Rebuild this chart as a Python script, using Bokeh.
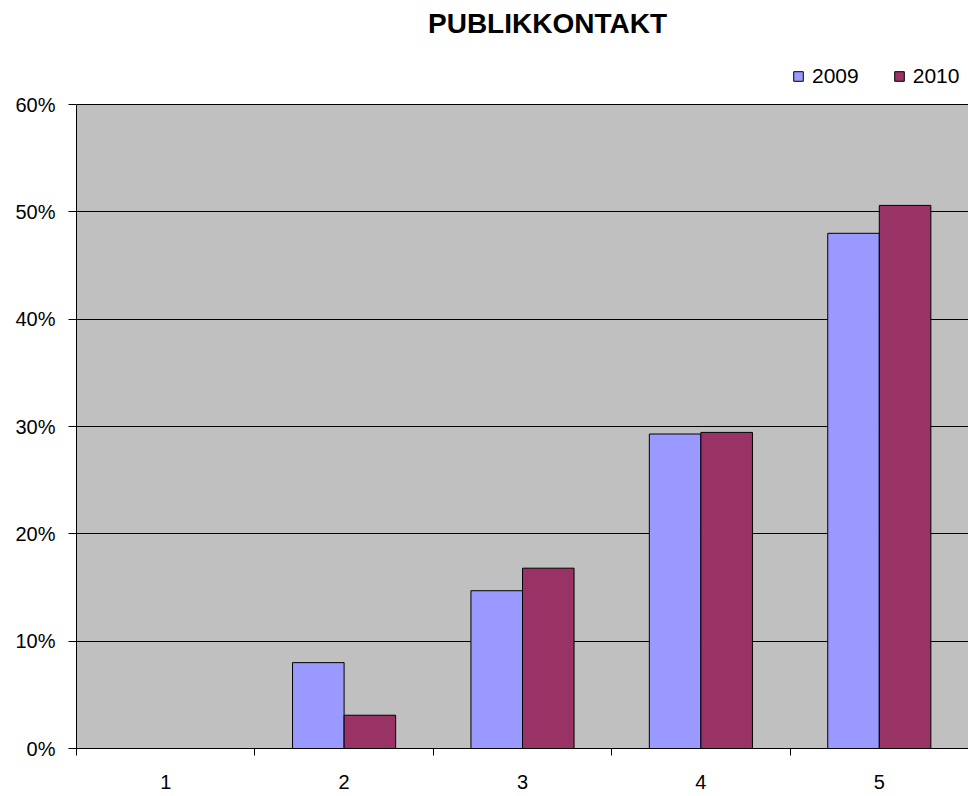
from bokeh.plotting import figure
from bokeh.models import (FixedTicker, NumeralTickFormatter, Label, Legend, LegendItem,
                          ColumnDataSource)
from bokeh.embed import file_html
from bokeh.resources import INLINE

categories = ["1", "2", "3", "4", "5"]
values_2009 = [0.0, 0.080, 0.147, 0.293, 0.480]
values_2010 = [0.0, 0.031, 0.168, 0.2945, 0.506]
series_names = ["2009", "2010"]
y_ticks = [0.0, 0.1, 0.2, 0.3, 0.4, 0.5, 0.6]
title_text = "PUBLIKKONTAKT"

FONT = "Liberation Sans"
BAR_W = 0.289
Y_MAX = 0.6
FRAME_H = 748
PLOT_H = 644
y_top = Y_MAX * FRAME_H / PLOT_H  # extra headroom for title/legend inside frame

xpos = [i + 1 for i in range(len(categories))]
src = ColumnDataSource(dict(
    x09=[x - BAR_W / 2 for x in xpos],
    x10=[x + BAR_W / 2 for x in xpos],
    v09=values_2009,
    v10=values_2010,
))

p = figure(width=968, height=796, output_backend="svg", toolbar_location=None,
           x_range=(0.5, len(categories) + 0.5), y_range=(0, y_top),
           min_border_left=76, min_border_right=0, min_border_top=0, min_border_bottom=48)

p.background_fill_color = "white"
p.border_fill_color = "white"
p.outline_line_color = None

# gray plot area (0% .. 60%)
p.quad(left=0.5, right=len(categories) + 0.5, bottom=0, top=Y_MAX,
       fill_color="#C0C0C0", line_color=None, level="image")

r09 = p.vbar(x="x09", top="v09", width=BAR_W, source=src, fill_color="#9999FF",
             line_color="black", line_width=1)
r10 = p.vbar(x="x10", top="v10", width=BAR_W, source=src, fill_color="#993366",
             line_color="black", line_width=1)

# y axis
yax = p.yaxis[0]
yax.ticker = FixedTicker(ticks=y_ticks)
yax.bounds = (0, Y_MAX)
yax.formatter = NumeralTickFormatter(format="0%")
yax.major_tick_in = 0
yax.major_tick_out = 8
yax.minor_tick_line_color = None
yax.axis_line_color = "black"
yax.major_tick_line_color = "black"
yax.major_label_text_font = FONT
yax.major_label_text_font_size = "20px"
yax.major_label_text_color = "black"
yax.major_label_standoff = 13

# x axis
xax = p.xaxis[0]
xax.ticker = FixedTicker(ticks=xpos, minor_ticks=[x - 0.5 for x in xpos] + [len(xpos) + 0.5])
xax.major_label_overrides = {x: c for x, c in zip(xpos, categories)}
xax.major_tick_in = 0
xax.major_tick_out = 0
xax.minor_tick_in = 0
xax.minor_tick_out = 7
xax.minor_tick_line_color = "black"
xax.axis_line_color = "black"
xax.major_label_text_font = FONT
xax.major_label_text_font_size = "20px"
xax.major_label_text_color = "black"
xax.major_label_standoff = 19

p.xgrid.grid_line_color = None
p.ygrid.ticker = FixedTicker(ticks=y_ticks)
p.ygrid.grid_line_color = "black"
p.ygrid.grid_line_alpha = 1.0

# title
p.add_layout(Label(x=471, y=725, x_units="screen", y_units="screen", text=title_text,
                   text_font=FONT, text_font_size="28px", text_font_style="bold",
                   text_align="center", text_baseline="middle", text_color="black"))

legend = Legend(items=[LegendItem(label=series_names[0], renderers=[r09]),
                       LegendItem(label=series_names[1], renderers=[r10])],
                location=(716, 660), orientation="horizontal",
                glyph_width=12, glyph_height=12, label_standoff=8, spacing=34,
                padding=0, margin=0, border_line_color=None, background_fill_alpha=0,
                label_text_font=FONT, label_text_font_size="21px", label_text_color="black",
                label_height=20)
p.add_layout(legend)

open("out.html", "w").write(file_html(p, INLINE))
